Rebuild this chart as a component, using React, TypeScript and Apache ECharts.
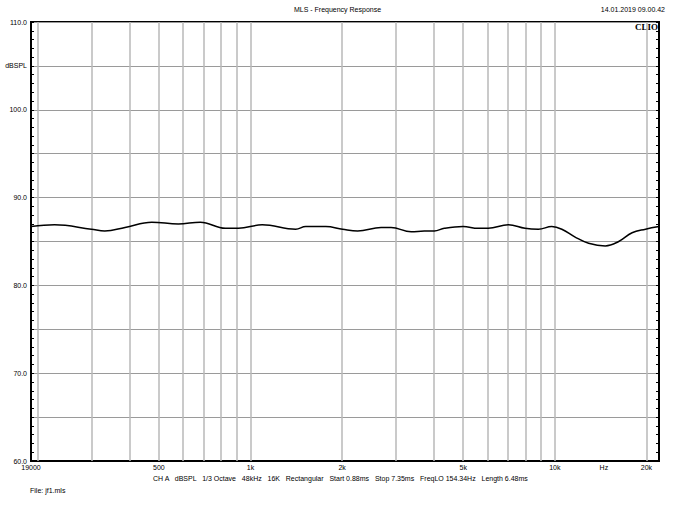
import React, { useEffect, useRef } from "react";
import * as echarts from "echarts";

const freqs = [190, 227, 300, 332, 387, 474, 579, 684, 827, 913, 1093, 1408, 1519, 1768, 2007, 2250, 2686, 2897, 3373, 3724, 4018, 4335, 4996, 5600, 6043, 7036, 7980, 8834, 9775, 10546, 11665, 12912, 14654, 16218, 17947, 19866, 22000];
const levels = [86.7, 86.9, 86.4, 86.2, 86.6, 87.2, 87.0, 87.2, 86.5, 86.5, 86.9, 86.4, 86.7, 86.7, 86.4, 86.2, 86.6, 86.6, 86.1, 86.2, 86.2, 86.5, 86.7, 86.5, 86.5, 86.9, 86.5, 86.4, 86.7, 86.4, 85.5, 84.8, 84.5, 85.0, 86.0, 86.4, 86.7];

const gridFreqs = [200, 300, 400, 500, 600, 700, 800, 900, 1000, 2000, 3000, 4000, 5000, 6000, 7000, 8000, 9000, 10000, 20000];
const xLabelFreqs = [190, 500, 1000, 2000, 5000, 10000, 14500, 20000];
const xLabelTexts = ["19000", "500", "1k", "2k", "5k", "10k", "Hz", "20k"];
const yLabels: Record<number, string> = { 110: "110.0", 105: "dBSPL", 100: "100.0", 90: "90.0", 80: "80.0", 70: "70.0", 60: "60.0" };

const titleText = "MLS - Frequency Response";
const dateText = "14.01.2019 09.00.42";
const infoText = "CH A   dBSPL   1/3 Octave   48kHz   16K   Rectangular   Start 0.88ms   Stop 7.35ms   FreqLO 154.34Hz   Length 6.48ms";
const fileText = "File: jf1.mls";

const FONT = "Liberation Sans";

export default function App() {
  const ref = useRef<HTMLDivElement>(null);
  useEffect(() => {
    if (!ref.current) return;
    const chart = echarts.init(ref.current, null, { renderer: "svg" });
    const yAxisCommon = {
      type: "value",
      min: 60,
      max: 110,
      interval: 5,
      axisLine: { show: true, lineStyle: { color: "#000", width: 2 } },
      axisTick: { show: true, inside: true, length: 3, lineStyle: { color: "#000" } },
      minorTick: { show: true, splitNumber: 5, length: 3, lineStyle: { color: "#000" } },
    };
    const gridLineData = gridFreqs.map((f) => ({ xAxis: f }));
    const labelLineData = xLabelFreqs.map((f, i) => ({
      xAxis: f,
      lineStyle: { color: "rgba(0,0,0,0)", width: 0 },
      label: { show: true, formatter: xLabelTexts[i], color: "#000" },
    }));
    chart.setOption({
      animation: false,
      backgroundColor: "#fff",
      grid: { left: 31, right: 16, top: 22, bottom: 45, show: true, borderColor: "#000", borderWidth: 2, backgroundColor: "transparent" },
      xAxis: {
        type: "log",
        logBase: 10,
        min: 190,
        max: 22000,
        axisLine: { show: true, lineStyle: { color: "#000", width: 2 } },
        axisTick: { show: false },
        axisLabel: { show: false },
        splitLine: { show: false },
        minorSplitLine: { show: false },
      },
      yAxis: [
        {
          ...yAxisCommon,
          position: "left",
          axisLabel: {
            show: true,
            fontFamily: FONT,
            fontSize: 7,
            color: "#000",
            margin: 4,
            formatter: (v: number) => yLabels[v] ?? "",
          },
          splitLine: { show: true, lineStyle: { color: "#9a9a9a", width: 1 } },
        },
        {
          ...yAxisCommon,
          position: "right",
          axisLabel: { show: false },
          splitLine: { show: false },
        },
      ],
      series: [
        {
          type: "line",
          data: freqs.map((f, i) => [f, levels[i]]),
          showSymbol: false,
          smooth: 0.4,
          z: 5,
          lineStyle: { color: "#000", width: 1.5 },
          markLine: {
            silent: true,
            symbol: ["none", "none"],
            animation: false,
            z: 1,
            lineStyle: { color: "#b8b8b8", width: 1.5, type: "solid" },
            label: {
              show: false,
              position: "start",
              distance: 3,
              fontFamily: FONT,
              fontSize: 7,
              color: "#000",
            },
            data: [...gridLineData, ...labelLineData],
          },
        },
      ],
      graphic: [
        { type: "text", left: "center", top: 6, style: { text: titleText, fontFamily: FONT, fontSize: 7, fill: "#000" } },
        { type: "text", right: 10, top: 6, style: { text: dateText, fontFamily: FONT, fontSize: 7, fill: "#000" } },
        { type: "text", right: 17, top: 22, style: { text: "CLIO", fontFamily: "Liberation Serif", fontWeight: "bold", fontSize: 9, fill: "#000" } },
        { type: "text", left: 153, top: 475, style: { text: infoText, fontFamily: FONT, fontSize: 7, fill: "#000" } },
        { type: "text", left: 30, top: 487, style: { text: fileText, fontFamily: FONT, fontSize: 7, fill: "#000" } },
      ],
    });
    return () => chart.dispose();
  }, []);
  return <div ref={ref} style={{ position: "absolute", left: 0, top: 0, width: 675, height: 506, background: "#fff" }} />;
}
